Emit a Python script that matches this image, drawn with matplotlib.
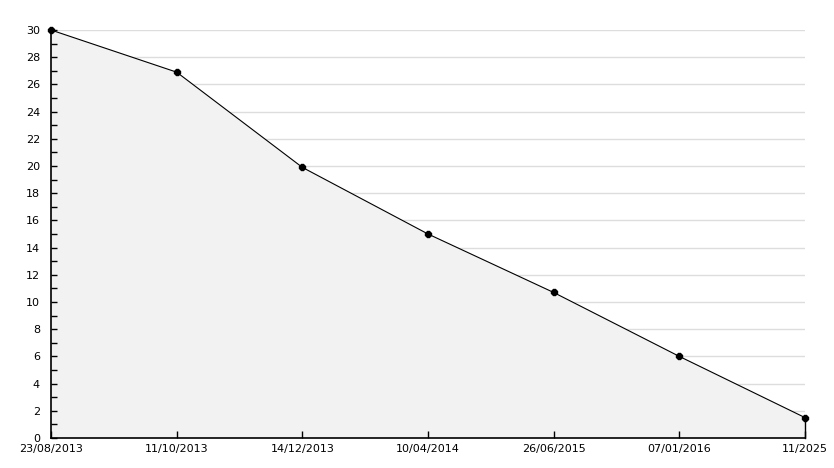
import matplotlib
matplotlib.use("Agg")
import matplotlib.pyplot as plt
from matplotlib.ticker import MultipleLocator

labels = ["23/08/2013", "11/10/2013", "14/12/2013", "10/04/2014", "26/06/2015", "07/01/2016", "11/2025"]
values = [30, 26.9, 19.9, 15, 10.7, 6, 1.5]
y_grid = list(range(2, 31, 2))

x = list(range(len(labels)))

fig = plt.figure(figsize=(8.34, 4.68), dpi=100)
ax = fig.add_axes([51/834, 1-438/468, (805-51)/834, (438-30)/468])

ax.set_xlim(0, len(labels)-1)
ax.set_ylim(0, 30)

ax.yaxis.set_major_locator(MultipleLocator(2))
ax.yaxis.set_minor_locator(MultipleLocator(1))
for g in y_grid:
    ax.axhline(g, color='#dddddd', linewidth=1.0, zorder=0.5)

ax.fill_between(x, values, 0, facecolor='#f2f2f2', edgecolor='none', zorder=1)
ax.plot([x[-1], x[-1]], [0, values[-1]], color='black', linewidth=1.0, zorder=3, clip_on=False)
ax.plot(x, values, color='black', linewidth=0.8, zorder=3, clip_on=False)
ax.plot(x, values, linestyle='none', marker='8', markersize=4.5, color='black', zorder=4, clip_on=False)

ax.set_xticks(x)
ax.set_xticklabels(labels)
for s in ['top', 'right']:
    ax.spines[s].set_visible(False)
for s in ['left', 'bottom']:
    ax.spines[s].set_linewidth(1.2)
    ax.spines[s].set_color('black')

ax.tick_params(axis='y', which='both', direction='in', length=4, width=1, labelsize=8, pad=8)
ax.tick_params(axis='x', which='major', direction='in', length=5, width=1, labelsize=8, pad=4)
for lbl in ax.get_xticklabels() + ax.get_yticklabels():
    lbl.set_fontfamily('DejaVu Sans')

fig.savefig("out.png", dpi=100)
